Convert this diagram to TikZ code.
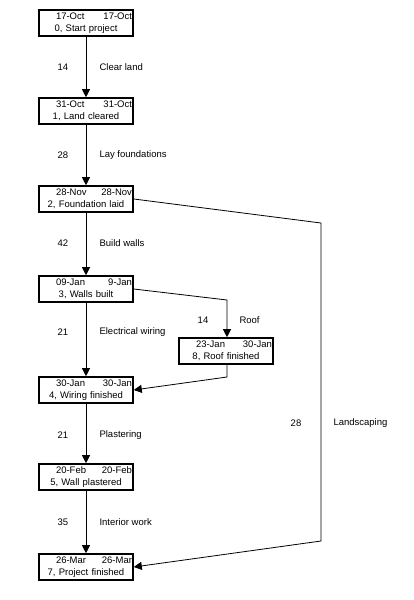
\documentclass[tikz,border=0pt]{standalone}
\usepackage{fontspec}
\setmainfont{Liberation Sans}
\usetikzlibrary{arrows.meta}
\tikzset{
  event/.style={draw, line width=1.6pt, minimum width=94pt, minimum height=26pt,
    text width=92pt, inner sep=1pt, align=center, font=\fontsize{9.5}{11.5}\selectfont},
  act/.style={draw, line width=0.8pt, -{Triangle[length=8pt,width=8pt]}},
  dur/.style={anchor=center, font=\fontsize{9.5}{11}\selectfont},
  job/.style={anchor=west, font=\fontsize{9.5}{11}\selectfont}
}
\newcommand{\dates}[2]{\makebox[92pt]{\hspace*{16pt}#1\hfill#2}}
\begin{document}
\begin{tikzpicture}[x=1pt,y=-1pt]
  \useasboundingbox (0,0) rectangle (414,600);
  % events
  \node[event] (e0) at (86,23) {\dates{17-Oct}{17-Oct}\\0, Start project};
  \node[event] (e1) at (86,111) {\dates{31-Oct}{31-Oct}\\1, Land cleared};
  \node[event] (e2) at (86,199) {\dates{28-Nov}{28-Nov}\\2, Foundation laid};
  \node[event] (e3) at (86,289) {\dates{09-Jan}{9-Jan}\\3, Walls built};
  \node[event] (e8) at (226,351) {\dates{23-Jan}{30-Jan}\\8, Roof finished};
  \node[event] (e4) at (86,390) {\dates{30-Jan}{30-Jan}\\4, Wiring finished};
  \node[event] (e5) at (86,477) {\dates{20-Feb}{20-Feb}\\5, Wall plastered};
  \node[event] (e7) at (86,567) {\dates{26-Mar}{26-Mar}\\7, Project finished};
  % bends
  \coordinate (r1) at (227,300);
  \coordinate (r2) at (227,377);
  \coordinate (l1) at (321,223);
  \coordinate (l2) at (321,541);
  % activities
  \draw[act] (e0) -- (e1);
  \draw[act] (e1) -- (e2);
  \draw[act] (e2) -- (e3);
  \draw[act] (e3) -- (e4);
  \draw[act] (e4) -- (e5);
  \draw[act] (e5) -- (e7);
  \draw[act] (e3.east) -- (r1) -- (r1 |- e8.north);
  \draw[act] (r1 |- e8.south) -- (r2) -- (e4.east);
  \draw[act] (e2.east) -- (l1) -- (l2) -- (e7.east);
  % labels
  \node[dur] (d01) at (63,67) {14};
  \node[job] (j01) at (96,67) {Clear land};
  \node[dur] (d12) at (63,155) {28};
  \node[job] (j12) at (96,155) {Lay foundations};
  \node[dur] (d23) at (63,243) {42};
  \node[job] (j23) at (96,243) {Build walls};
  \node[dur] (d34) at (63,332) {21};
  \node[job] (j34) at (96,332) {Electrical wiring};
  \node[dur] (d38) at (203,320) {14};
  \node[job] (j38) at (236,320) {Roof};
  \node[dur] (d45) at (63,435) {21};
  \node[job] (j45) at (96,435) {Plastering};
  \node[dur] (d57) at (63,522) {35};
  \node[job] (j57) at (96,522) {Interior work};
  \node[dur] (d27) at (296,423) {28};
  \node[job] (j27) at (330,423) {Landscaping};
\end{tikzpicture}
\end{document}
